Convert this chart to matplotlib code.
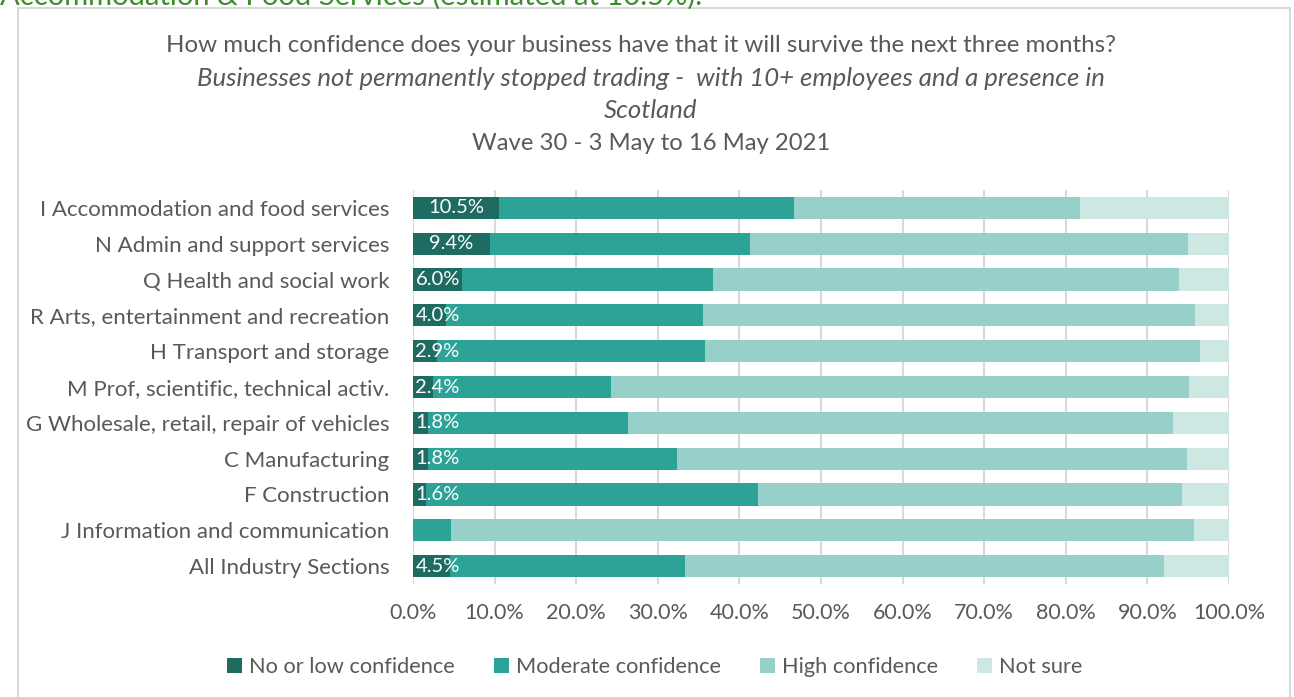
import numpy as np
import matplotlib.pyplot as plt
from matplotlib.patches import Rectangle

plt.rcParams['font.family'] = ['Lato', 'DejaVu Sans']

sectors = [
    'I Accommodation and food services',
    'N Admin and support services',
    'Q Health and social work',
    'R Arts, entertainment and recreation',
    'H Transport and storage',
    'M Prof, scientific, technical activ.',
    'G Wholesale, retail, repair of vehicles',
    'C Manufacturing',
    'F Construction',
    'J Information and communication',
    'All Industry Sections',
]
low = [10.5, 9.4, 6.0, 4.0, 2.9, 2.4, 1.8, 1.8, 1.6, 0.0, 4.5]
moderate = [36.2, 31.9, 30.8, 31.5, 32.9, 21.9, 24.6, 30.6, 40.7, 4.6, 28.8]
high = [35.0, 53.7, 57.1, 60.3, 60.7, 70.8, 66.7, 62.5, 51.9, 91.1, 58.7]
not_sure = [18.3, 5.0, 6.1, 4.2, 3.5, 4.9, 6.9, 5.1, 5.8, 4.3, 8.0]

series = ['No or low confidence', 'Moderate confidence', 'High confidence', 'Not sure']
colors = ['#1E6B61', '#2DA297', '#97D0C9', '#CDE8E3']
TXT = '#595959'

fig = plt.figure(figsize=(12.94, 6.97), dpi=100)
ax = fig.add_axes([0.3192, 0.1621, 0.6306, 0.5653])

y = np.arange(len(sectors))
left = np.zeros(len(sectors))
for vals, name, c in zip([low, moderate, high, not_sure], series, colors):
    ax.barh(y, vals, left=left, height=0.62, color=c, label=name, zorder=2)
    left = left + np.array(vals)

for i, v in enumerate(low):
    if v <= 0:
        continue
    if v > 7:
        ax.text(v / 2, i, f'{v:.1f}%', color='white', fontsize=14.5,
                ha='center', va='center', zorder=3)
    else:
        ax.text(0.3, i, f'{v:.1f}%', color='white', fontsize=14.5,
                ha='left', va='center', zorder=3)

ax.set_xlim(0, 100)
ax.set_ylim(len(sectors) - 0.5, -0.5)
ax.set_yticks(y)
ax.set_yticklabels(sectors, fontsize=16, color=TXT)
ax.set_xticks(np.arange(0, 101, 10))
ax.set_xticklabels([f'{t:.1f}%' for t in np.arange(0, 101, 10)], fontsize=15.5, color=TXT)
ax.tick_params(axis='y', length=0, pad=17)
ax.tick_params(axis='x', length=0, pad=14)
ax.grid(axis='x', color='#D9D9D9', lw=1.5, zorder=0)
for s in ax.spines.values():
    s.set_visible(False)

fig.text(0.4954, 1 - 45 / 697, 'How much confidence does your business have that it will survive the next three months?',
         ha='center', va='center', fontsize=17.4, color=TXT)
fig.text(0.503, 1 - 78 / 697, 'Businesses not permanently stopped trading -  with 10+ employees and a presence in',
         ha='center', va='center', fontsize=18.5, color=TXT, style='italic')
fig.text(0.503, 1 - 110 / 697, 'Scotland', ha='center', va='center', fontsize=18.5, color=TXT, style='italic')
fig.text(0.503, 1 - 143 / 697, 'Wave 30 - 3 May to 16 May 2021', ha='center', va='center', fontsize=17.2, color=TXT)

fig.text(0.0, 1 - 5 / 697, 'Accommodation & Food Services (estimated at 10.5%).',
         ha='left', va='baseline', fontsize=21, color='#3C8C2C')

fig.patches.append(Rectangle((18 / 1294, -0.05), 1272 / 1294, 1.05 - 8 / 697,
                             transform=fig.transFigure, fill=False, ec='#D9D9D9', lw=1.5))

fig.legend(loc='center', bbox_to_anchor=(0.506, 1 - 667 / 697), ncol=4, frameon=False,
           fontsize=15.7, handlelength=0.7, handleheight=0.7, handletextpad=0.3,
           columnspacing=1.8, labelcolor=TXT)

fig.savefig('out.png', dpi=100)
